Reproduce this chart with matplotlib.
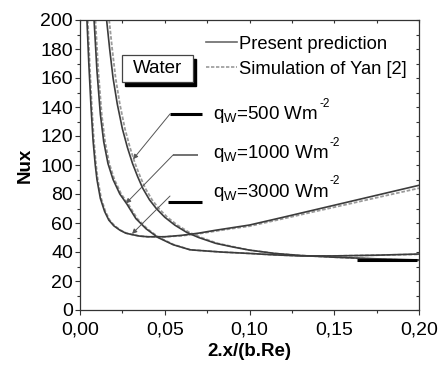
import matplotlib
matplotlib.use("Agg")
import matplotlib.pyplot as plt
import matplotlib.patches as patches
from matplotlib.ticker import MultipleLocator, FixedLocator

plt.rcParams['font.family'] = ['Liberation Sans', 'DejaVu Sans']
plt.rcParams['mathtext.fontset'] = 'custom'
plt.rcParams['mathtext.rm'] = 'Liberation Sans'
plt.rcParams['mathtext.default'] = 'regular'

# present prediction, one curve per wall heat flux
x_500 = [0.0157, 0.0175, 0.0195, 0.022, 0.025, 0.028, 0.031, 0.034, 0.037, 0.041, 0.045, 0.050,
         0.056, 0.063, 0.070, 0.080, 0.090, 0.100, 0.115, 0.130, 0.150, 0.175, 0.200]
nu_500 = [200, 180, 160, 142, 125, 112, 101, 92, 84, 76, 70, 64,
          58.5, 53.5, 50, 46, 43.5, 41.3, 39, 37.6, 36.4, 35.3, 34.5]

x_1000 = [0.0083, 0.0100, 0.0120, 0.0140, 0.0165, 0.0195, 0.0235, 0.0277, 0.033, 0.039, 0.046,
          0.055, 0.065, 0.083, 0.100, 0.115, 0.130, 0.150, 0.175, 0.200]
nu_1000 = [200, 165, 135, 116, 101, 90, 80, 73, 63, 56, 50,
           45, 41.5, 40, 39, 38, 37.3, 37.3, 37.8, 38.6]

x_3000 = [0.0041, 0.0052, 0.0065, 0.0077, 0.0090, 0.0100, 0.0120, 0.0145, 0.0170, 0.0200, 0.0236,
          0.0270, 0.0307, 0.035, 0.040, 0.050, 0.060, 0.070, 0.080, 0.090, 0.100, 0.120, 0.140,
          0.160, 0.180, 0.200]
nu_3000 = [200, 170, 140, 117, 100, 90, 77, 68, 62, 58, 55,
           53, 52, 51, 50.5, 50.5, 51.5, 53, 55, 56.8, 58.6, 64, 69.5,
           75, 80.5, 86]

# simulation of Yan [2]
xs_500 = [0.0172, 0.019, 0.021, 0.0235, 0.0265, 0.0295, 0.0325, 0.0355, 0.0385, 0.0425, 0.0465,
          0.0515, 0.0575, 0.0645, 0.0715, 0.081, 0.091, 0.100, 0.115, 0.130, 0.150, 0.175, 0.200]
nus_500 = [200, 180, 160, 142, 125, 112, 101, 92, 84, 76, 70,
           64, 58.5, 53.5, 50, 46, 43.5, 41.3, 39, 37.6, 36.4, 35.1, 34.2]

xs_1000 = [0.0091, 0.0108, 0.0128, 0.0148, 0.0173, 0.0203, 0.0243, 0.0285, 0.0338, 0.0397, 0.0466,
           0.0555, 0.0652, 0.083, 0.100, 0.115, 0.130, 0.150, 0.175, 0.200]
nus_1000 = [200, 165, 135, 116, 101, 90, 80, 73, 63, 56, 50,
            45, 41.5, 40, 39, 38, 37.3, 37.3, 37.8, 38.4]

xs_3000 = [0.0046, 0.0057, 0.0070, 0.0082, 0.0095, 0.0105, 0.0125, 0.0150, 0.0175, 0.0205, 0.0240,
           0.0273, 0.0310, 0.035, 0.040, 0.050, 0.060, 0.070, 0.080, 0.090, 0.100, 0.120, 0.140,
           0.160, 0.180, 0.200]
nus_3000 = [200, 170, 140, 117, 100, 90, 77, 68, 62, 58, 55,
            53, 52, 51, 50.5, 50.5, 51.2, 52.6, 54.4, 56.2, 57.8, 63, 68.3,
            73.5, 78.8, 84]

flux_labels = [r'q$_{W}$=500 Wm', r'q$_{W}$=1000 Wm', r'q$_{W}$=3000 Wm']
# (text x, text y, leader start x, leader start y, arrow tip x, arrow tip y)
flux_arrows = [(0.0785, 131.7, 0.0531, 135.2, 0.0313, 104),
               (0.0785, 104.6, 0.0549, 106.9, 0.0271, 73.5),
               (0.0785, 78.2, 0.0531, 78.6, 0.0307, 52.5)]
leader_ends = [(0.0531, 0.0720, 135.2), (0.0549, 0.0696, 106.9), (0.0519, 0.0720, 74.5)]

fig = plt.figure(figsize=(4.39, 3.65), dpi=100)
ax = fig.add_axes([80 / 439, 1 - 310 / 365, 339 / 439, 290 / 365])

pres_col = '#3c3c3c'
sim_col = '#9a9a9a'
for xx, yy in [(xs_500, nus_500), (xs_1000, nus_1000), (xs_3000, nus_3000)]:
    ax.plot(xx, yy, color=sim_col, lw=1.3, ls=(0, (2, 1)))
for xx, yy in [(x_500, nu_500), (x_1000, nu_1000), (x_3000, nu_3000)]:
    ax.plot(xx, yy, color=pres_col, lw=1.2)

h1, = ax.plot([], [], color='#6a6a6a', lw=1.2, label='Present prediction')
h2, = ax.plot([], [], color=sim_col, lw=1.2, ls=(0, (2, 1)), label='Simulation of Yan [2]')
ax.legend(handles=[h1, h2], loc='upper left', bbox_to_anchor=(0.372, 0.946), frameon=False,
          fontsize=13.2, handlelength=1.7, handletextpad=0.12, labelspacing=0.45,
          borderaxespad=0, borderpad=0)

# leaders with arrows
for i, (tx, ty, sx, sy, ex, ey) in enumerate(flux_arrows):
    ax.annotate('', xy=(ex, ey), xytext=(sx, sy),
                arrowprops=dict(arrowstyle='-|>', color='#555555', lw=0.7, mutation_scale=7,
                                shrinkA=0, shrinkB=0))
    x0, x1, ly = leader_ends[i]
    ax.plot([x0, x1], [ly, ly], color='black' if i != 1 else '#666666',
            lw=2.2 if i != 1 else 1.3, solid_capstyle='butt')
    t = ax.text(tx, ty, flux_labels[i], fontsize=13.5, va='baseline', ha='left')
    ax.annotate('-2', xy=(1, 1), xycoords=t, xytext=(0.8, 4.5), textcoords='offset points',
                fontsize=8.5, va='top', ha='left')

ax.plot([0.1634, 0.1988], [34.3, 34.3], color='black', lw=2.2, solid_capstyle='butt')

# Water box with shadow
shadow = patches.Rectangle((0.124 + 0.009, 0.786 - 0.013), 0.209, 0.093, transform=ax.transAxes,
                           facecolor='black', edgecolor='black', zorder=4)
box = patches.Rectangle((0.124, 0.786), 0.209, 0.093, transform=ax.transAxes,
                        facecolor='white', edgecolor='#444444', lw=0.9, zorder=5)
ax.add_patch(shadow)
ax.add_patch(box)
ax.text(0.124 + 0.1045, 0.786 + 0.0465, 'Water', transform=ax.transAxes, fontsize=13.5,
        ha='center', va='center', zorder=6)

ax.set_xlim(0, 0.2)
ax.set_ylim(0, 200)
ax.xaxis.set_major_locator(FixedLocator([0, 0.05, 0.10, 0.15, 0.20]))
ax.set_xticklabels(['0,00', '0,05', '0,10', '0,15', '0,20'])
ax.xaxis.set_minor_locator(MultipleLocator(0.025))
ax.yaxis.set_major_locator(MultipleLocator(20))
ax.yaxis.set_minor_locator(MultipleLocator(10))
ax.tick_params(which='major', direction='out', length=3.5, width=0.8, labelsize=14,
               color='#333333')
ax.tick_params(axis='x', which='major', pad=5)
ax.tick_params(axis='y', which='major', pad=1.5)
ax.tick_params(which='minor', direction='out', length=2, width=0.8, color='#333333')
for s in ax.spines.values():
    s.set_color('#333333')
    s.set_linewidth(0.9)

top = ax.secondary_xaxis('top')
top.xaxis.set_major_locator(MultipleLocator(0.025))
top.tick_params(direction='in', length=2, width=0.8, labeltop=False, color='#333333')
top.spines['top'].set_visible(False)
right = ax.secondary_yaxis('right')
right.yaxis.set_major_locator(MultipleLocator(10))
right.tick_params(direction='in', length=2.5, width=0.8, labelright=False, color='#333333')
right.spines['right'].set_visible(False)

ax.set_xlabel('2.x/(b.Re)', fontsize=13.5, fontweight='bold', labelpad=3)
ax.set_ylabel('Nux', fontsize=13.5, fontweight='bold', labelpad=5)

fig.savefig('out.png', dpi=100)
